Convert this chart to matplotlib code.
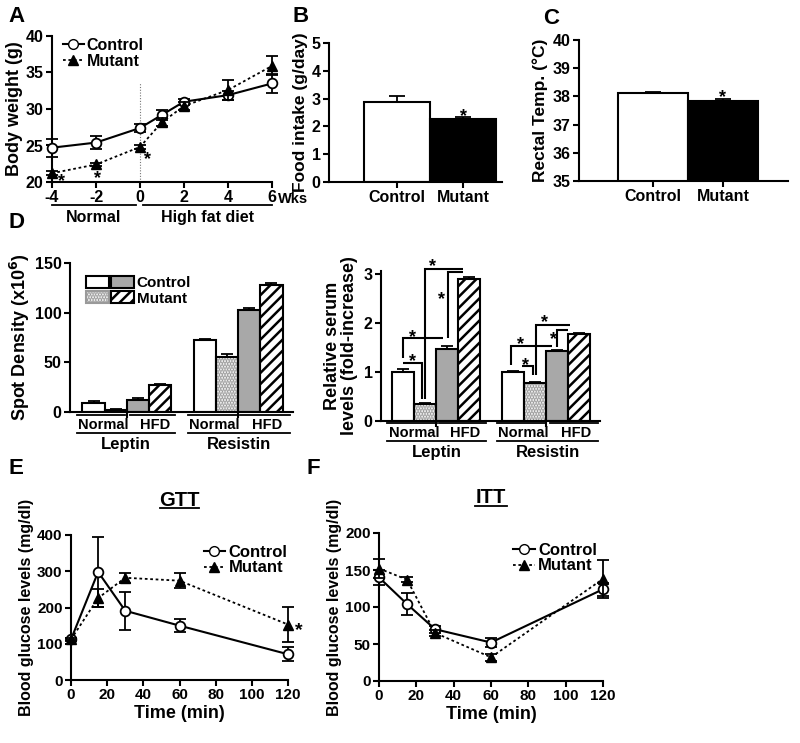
import matplotlib
matplotlib.use('Agg')
import matplotlib.pyplot as plt
import numpy as np
from matplotlib.lines import Line2D
from matplotlib.patches import Patch
from matplotlib.legend_handler import HandlerTuple

plt.rcParams['font.family'] = ['Liberation Sans', 'DejaVu Sans']
plt.rcParams['font.weight'] = 'bold'
plt.rcParams['axes.labelweight'] = 'bold'
plt.rcParams['axes.linewidth'] = 1.5
plt.rcParams['hatch.linewidth'] = 1.8
plt.rcParams['xtick.major.width'] = 1.5
plt.rcParams['ytick.major.width'] = 1.5
plt.rcParams['xtick.major.size'] = 4
plt.rcParams['ytick.major.size'] = 4
plt.rcParams['xtick.labelsize'] = 11.5
plt.rcParams['ytick.labelsize'] = 11.5

# ---------------- data ----------------
# Panel A: body weight
weeks = [-4, -2, 0, 1, 2, 4, 6]
bw_ctrl = [24.7, 25.4, 27.4, 29.2, 31.0, 31.9, 33.5]
bw_ctrl_err = [1.25, 0.9, 0.6, 0.7, 0.4, 0.6, 1.3]
bw_mut = [21.2, 22.4, 24.8, 28.2, 30.4, 32.6, 35.9]
bw_mut_err = [0.25, 0.25, 0.25, 0.5, 0.6, 1.4, 1.3]
week_ticks = [-4, -2, 0, 2, 4, 6]

# Panels B, C
groups = ['Control', 'Mutant']
food = [2.88, 2.27]
food_err = [0.2, 0.06]
temp = [38.12, 37.85]
temp_err = [0.03, 0.07]

# Panel D (order: Control Normal, Mutant Normal, Control HFD, Mutant HFD)
spot_leptin = [9.5, 2.5, 12.5, 27.0]
spot_leptin_err = [1.2, 1.0, 1.2, 1.0]
spot_resistin = [72.0, 55.5, 103.0, 128.0]
spot_resistin_err = [1.5, 2.5, 2.0, 1.5]
serum_leptin = [1.0, 0.35, 1.46, 2.9]
serum_leptin_err = [0.07, 0.02, 0.06, 0.04]
serum_resistin = [1.0, 0.77, 1.42, 1.77]
serum_resistin_err = [0.02, 0.03, 0.03, 0.02]

# Panels E, F
time_min = [0, 15, 30, 60, 120]
gtt_ctrl = [112, 298, 191, 150, 71]
gtt_ctrl_err = [4, 97, 52, 17, 19]
gtt_mut = [112, 226, 282, 274, 153]
gtt_mut_err = [3, 25, 14, 20, 48]
itt_ctrl = [140, 104, 70, 52, 124]
itt_ctrl_err = [10, 15, 5, 6, 9]
itt_mut = [152, 137, 65, 32, 138]
itt_mut_err = [13, 3, 4, 5, 26]

W, H = 800, 743
fig = plt.figure(figsize=(W / 100, H / 100), dpi=100)


def rect(x0, y0, x1, y1):
    return [x0 / W, 1 - y1 / H, (x1 - x0) / W, (y1 - y0) / H]


def style(ax):
    for s in ['top', 'right']:
        ax.spines[s].set_visible(False)
    ax.tick_params(direction='out', pad=2)


def letter(x, y, s):
    fig.text(x / W, 1 - y / H, s, fontsize=16, fontweight='bold', va='top', ha='left')


def star(ax, x, y, size=13):
    ax.annotate('*', (x, y), xytext=(0, -3.2), textcoords='offset points', ha='center',
                va='center', fontsize=size, fontweight='bold', annotation_clip=False, zorder=6)


LW = 1.5
ctrl_kw = dict(color='black', ls='-', lw=LW, marker='o', mfc='white', mec='black',
               mew=1.3, ms=7, capsize=4, elinewidth=1.3, capthick=1.3, clip_on=False, zorder=3)
mut_kw = dict(color='black', ls=(0, (1.5, 1.5)), lw=1.3, marker='^', mfc='black', mec='black',
              ms=6.5, capsize=4, elinewidth=1.3, capthick=1.3, clip_on=False, zorder=4)

leg_handles = [Line2D([], [], color='black', ls='-', lw=LW, marker='o', mfc='white', mec='black', ms=7),
               Line2D([], [], color='black', ls=(0, (1.5, 1.5)), lw=1.3, marker='^', mfc='black', ms=6.5)]

# ---------------- Panel A ----------------
axA = fig.add_axes(rect(52, 36, 272, 182))
style(axA)
axA.errorbar(weeks, bw_ctrl, yerr=bw_ctrl_err, **ctrl_kw)
axA.errorbar(weeks, bw_mut, yerr=bw_mut_err, **mut_kw)
axA.plot([0, 0], [20, 33.7], color='#777777', lw=0.8, ls=(0, (1, 1.5)), zorder=1)
axA.set_xlim(-4, 6)
axA.set_ylim(20, 40)
axA.set_xticks(week_ticks)
axA.set_xticklabels([str(w) for w in week_ticks])
axA.set_yticks([20, 25, 30, 35, 40])
axA.set_ylabel('Body weight (g)', fontsize=13, labelpad=2)
axA.text(6.25, -0.07, 'Wks', transform=axA.get_xaxis_transform(), fontsize=10.5,
         va='top', ha='left', fontweight='bold')
for (x0, x1, lab) in [(-4, -0.2, 'Normal'), (0.15, 6, 'High fat diet')]:
    axA.plot([x0, x1], [-0.16, -0.16], transform=axA.get_xaxis_transform(), color='black',
             lw=1.3, clip_on=False)
    axA.text((x0 + x1) / 2, -0.19, lab, transform=axA.get_xaxis_transform(), ha='center',
             va='top', fontsize=11.5, fontweight='bold')
for (sx, sy) in [(-3.55, 20.6), (-1.95, 21.05), (0.32, 23.7)]:
    star(axA, sx, sy)
axA.legend(leg_handles, ['Control', 'Mutant'], loc='upper left', bbox_to_anchor=(0.02, 1.03),
           frameon=False, handlelength=1.3, handletextpad=0.2, labelspacing=0.05,
           borderaxespad=0, prop={'weight': 'bold', 'size': 11.5})

# ---------------- Panel B ----------------
axB = fig.add_axes(rect(329, 43, 502, 182))
style(axB)
xb = np.arange(len(groups))
axB.bar(xb, food, width=1.0, color=['white', 'black'], edgecolor='black', lw=LW, zorder=2)
axB.errorbar(xb, food, yerr=[np.zeros(2), food_err], fmt='none', ecolor='black',
             elinewidth=1.3, capsize=6, capthick=1.3, zorder=1)
star(axB, 1, 2.52)
axB.set_xlim(-1.03, 1.59)
axB.set_ylim(0, 5)
axB.set_xticks(xb)
axB.set_xticklabels(groups)
axB.set_yticks(range(6))
axB.set_ylabel('Food intake (g/day)', fontsize=12.5, labelpad=3)

# ---------------- Panel C ----------------
axC = fig.add_axes(rect(579, 40, 788, 181))
style(axC)
axC.bar(xb, temp, width=1.0, color=['white', 'black'], edgecolor='black', lw=LW, zorder=2)
axC.errorbar(xb, temp, yerr=[np.zeros(2), temp_err], fmt='none', ecolor='black',
             elinewidth=1.3, capsize=6, capthick=1.3, zorder=1)
star(axC, 1, 38.12)
axC.set_xlim(-1.06, 1.93)
axC.set_ylim(35, 40)
axC.set_xticks(xb)
axC.set_xticklabels(groups)
axC.set_yticks(range(35, 41))
axC.set_ylabel('Rectal Temp. (°C)', fontsize=12.5, labelpad=3)

# ---------------- Panel D ----------------
pos = [0, 1, 2, 3, 5, 6, 7, 8]
faces = ['white', 'white', '#a8a8a8', 'white'] * 2
hatches = [None, '......', None, '///'] * 2
hcols = ['black', '#9a9a9a', 'black', 'black'] * 2


def draw_bars(ax, vals, errs):
    for p, v, e, fc, h, hc in zip(pos, vals, errs, faces, hatches, hcols):
        ax.bar(p, v, width=1.0, color=fc, edgecolor=hc, hatch=h, lw=0, zorder=2)
        ax.bar(p, v, width=1.0, fill=False, edgecolor='black', lw=LW, zorder=3)
        ax.errorbar(p, v, yerr=[[0], [e]], fmt='none', ecolor='black', elinewidth=1.3,
                    capsize=4, capthick=1.3, zorder=1)


def group_labels(ax, y_sub, y_subtxt, y_grp, y_grptxt, spans):
    tr = ax.get_xaxis_transform()
    for (g0, g1, sub, gname) in spans:
        for (s0, s1, lab) in sub:
            ax.plot([s0, s1], [y_sub, y_sub], transform=tr, color='black', lw=1.3, clip_on=False)
            ax.text((s0 + s1) / 2 + 0.1, y_subtxt, lab, transform=tr, ha='center', va='top',
                    fontsize=10.5, fontweight='bold')
        ax.plot([g0, g1], [y_grp, y_grp], transform=tr, color='black', lw=1.3, clip_on=False)
        ax.text((g0 + g1) / 2, y_grptxt, gname, transform=tr, ha='center', va='top',
                fontsize=12, fontweight='bold')


# D left
axD1 = fig.add_axes(rect(70, 263, 293, 412))
style(axD1)
draw_bars(axD1, spot_leptin + spot_resistin, spot_leptin_err + spot_resistin_err)
axD1.set_xlim(-1.06, 8.97)
axD1.set_ylim(0, 150)
axD1.set_yticks([0, 50, 100, 150])
axD1.set_xticks([1.5, 6.5])
axD1.set_xticklabels(['', ''])
axD1.set_ylabel('Spot Density (x10$^{\\mathbf{6}}$)', fontsize=13, labelpad=2)
group_labels(axD1, -0.018, -0.04, -0.14, -0.165,
             [(-0.74, 3.66, [(-0.74, 1.42, 'Normal'), (1.64, 3.66, 'HFD')], 'Leptin'),
              (4.25, 8.83, [(4.25, 6.45, 'Normal'), (6.6, 8.83, 'HFD')], 'Resistin')])
axD1.legend([(Patch(fc='white', ec='black', lw=1.5), Patch(fc='#a8a8a8', ec='black', lw=1.5)),
             (Patch(fc='white', ec='#9a9a9a', hatch='......', lw=1.5),
              Patch(fc='white', ec='black', hatch='///', lw=1.5))],
            ['Control', 'Mutant'],
            handler_map={tuple: HandlerTuple(ndivide=None, pad=0.12)},
            loc='upper left', bbox_to_anchor=(0.045, 0.955), frameon=False,
            handlelength=3.1, handleheight=0.8, handletextpad=0.2, labelspacing=0.1,
            borderaxespad=0, prop={'weight': 'bold', 'size': 11})

# D right
axD2 = fig.add_axes(rect(381, 271, 600, 421))
style(axD2)
draw_bars(axD2, serum_leptin + serum_resistin, serum_leptin_err + serum_resistin_err)
axD2.set_xlim(-1.0, 8.95)
axD2.set_ylim(0, 3.06)
axD2.set_yticks([0, 1, 2, 3])
axD2.set_xticks([1.5, 6.5])
axD2.set_xticklabels(['', ''])
axD2.set_ylabel('Relative serum\nlevels (fold-increase)', fontsize=13, labelpad=4,
                linespacing=1.0)
group_labels(axD2, -0.015, -0.035, -0.135, -0.16,
             [(-0.73, 3.77, [(-0.73, 1.55, 'Normal'), (1.64, 3.77, 'HFD')], 'Leptin'),
              (4.27, 8.86, [(4.27, 6.45, 'Normal'), (6.68, 8.86, 'HFD')], 'Resistin')])

bracket_x = [[0.0, 0.86, 0.86], [0.0, 0.0, 1.82], [1.0, 1.0, 2.73], [2.05, 2.05, 2.73],
             [5.4, 5.9, 5.9], [4.9, 4.9, 6.77], [6.05, 6.05, 7.6], [7.0, 7.0, 7.5]]
bracket_y = [[1.18, 1.18, 0.45], [1.29, 1.69, 1.69], [0.45, 3.1, 3.1], [1.69, 3.04, 3.04],
             [1.12, 1.12, 0.94], [1.14, 1.53, 1.53], [0.94, 1.96, 1.96], [1.51, 1.86, 1.86]]
star_xy = [(0.45, 1.31), (0.45, 1.80), (1.36, 3.24), (1.77, 2.57),
           (5.55, 1.22), (5.32, 1.65), (6.45, 2.10), (6.82, 1.76)]
for bx, by in zip(bracket_x, bracket_y):
    axD2.plot(bx, by, color='black', lw=1.5, clip_on=False, zorder=5,
              solid_joinstyle='miter', solid_capstyle='butt')
for sx, sy in star_xy:
    star(axD2, sx, sy)


# ---------------- Panels E, F ----------------
def glucose_panel(ax, ctrl, ctrl_err, mut, mut_err, ymax, yticks, title, ul, leg_anchor):
    style(ax)
    ax.errorbar(time_min, ctrl, yerr=ctrl_err, **ctrl_kw)
    ax.errorbar(time_min, mut, yerr=mut_err, **mut_kw)
    ax.set_xlim(0, 120)
    ax.set_ylim(0, ymax)
    ax.set_xticks(range(0, 121, 20))
    ax.set_yticks(yticks)
    ax.set_xlabel('Time (min)', fontsize=13, labelpad=2)
    ax.set_ylabel('Blood glucose levels (mg/dl)', fontsize=11.5, labelpad=2)
    ax.tick_params(labelsize=11)
    ax.text(0.5, 1.20, title, transform=ax.transAxes, ha='center', va='baseline',
            fontsize=14.5, fontweight='bold')
    ax.plot(ul, [1.185, 1.185], transform=ax.transAxes, color='black', lw=1.3, clip_on=False)
    ax.legend(leg_handles, ['Control', 'Mutant'], loc='upper left', bbox_to_anchor=leg_anchor,
              frameon=False, handlelength=1.3, handletextpad=0.2, labelspacing=0.05,
              borderaxespad=0, prop={'weight': 'bold', 'size': 12})


axE = fig.add_axes(rect(71, 535, 288, 680))
glucose_panel(axE, gtt_ctrl, gtt_ctrl_err, gtt_mut, gtt_mut_err, 400, range(0, 401, 100),
              'GTT', [0.41, 0.59], (0.58, 0.98))
star(axE, 126, 149, size=14)

axF = fig.add_axes(rect(379, 533, 603, 681))
glucose_panel(axF, itt_ctrl, itt_ctrl_err, itt_mut, itt_mut_err, 200, range(0, 201, 50),
              'ITT', [0.43, 0.57], (0.57, 0.98))

letter(8, 6, 'A')
letter(292, 6, 'B')
letter(543, 8, 'C')
letter(8, 212, 'D')
letter(8, 458, 'E')
letter(306, 458, 'F')

fig.savefig('out.png', dpi=100)
